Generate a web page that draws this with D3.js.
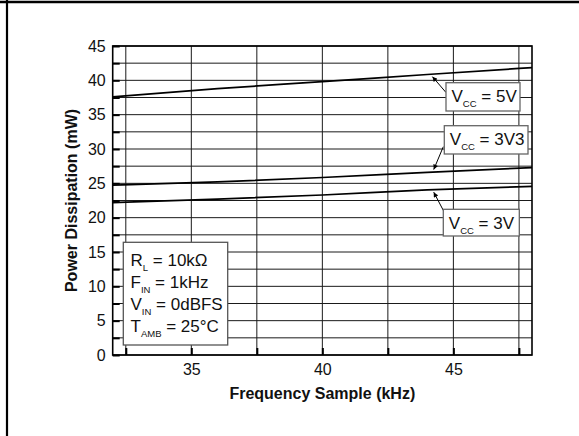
<!DOCTYPE html>
<html>
<head>
<meta charset="utf-8">
<script src="https://cdn.jsdelivr.net/npm/d3@7/dist/d3.min.js"></script>
<style>
  html, body { margin: 0; padding: 0; background: #fff; }
  svg { display: block; font-family: "Liberation Sans", Arial, sans-serif; }
</style>
</head>
<body>
<svg id="chart" width="579" height="436"></svg>
<script>
// Sample frequency (kHz) and power dissipation (mW) per supply voltage
const freqs   = [32, 36, 40, 44, 48];
const vcc5    = [37.6, 38.8, 39.8, 40.85, 41.85];
const vcc3v3  = [24.75, 25.2, 25.85, 26.6, 27.3];
const vcc3    = [22.2, 22.7, 23.3, 24.05, 24.55];

const xTickLabels = [35, 40, 45];
const yTickLabels = [0, 5, 10, 15, 20, 25, 30, 35, 40, 45];
const xGrid = [32.5, 35, 37.5, 40, 42.5, 45, 47.5];
const yGrid = d3.range(0, 45.01, 2.5);

const seriesValues = [vcc5, vcc3v3, vcc3];

(function draw() {
  const svg = d3.select("#chart");
  const W = 579, H = 436;
  const pl = 112.7, pr = 532, pt = 46, pb = 355;

  const x = d3.scaleLinear().domain([32, 48]).range([pl, pr]);
  const y = d3.scaleLinear().domain([0, 45]).range([pb, pt]);

  // outer frame (top and left edges)
  svg.append("line").attr("x1", 0).attr("x2", W).attr("y1", 2).attr("y2", 2)
    .attr("stroke", "#000").attr("stroke-width", 2.6);
  svg.append("line").attr("x1", 7).attr("x2", 7).attr("y1", 0).attr("y2", H)
    .attr("stroke", "#000").attr("stroke-width", 2.2);

  const g = svg.append("g");

  // grid
  g.append("g").selectAll("line").data(yGrid).join("line")
    .attr("x1", pl).attr("x2", pr)
    .attr("y1", d => y(d)).attr("y2", d => y(d))
    .attr("stroke", "#1a1a1a").attr("stroke-width", 1);
  g.append("g").selectAll("line").data(xGrid).join("line")
    .attr("x1", d => x(d)).attr("x2", d => x(d))
    .attr("y1", pt).attr("y2", pb)
    .attr("stroke", "#1a1a1a").attr("stroke-width", 1);

  // axes with inward ticks
  const yAxis = d3.axisLeft(y).tickValues(yGrid).tickSize(-7).tickPadding(7)
    .tickFormat(d => (yTickLabels.includes(d) ? d3.format("d")(d) : ""));
  const yg = g.append("g").attr("transform", `translate(${pl},0)`).call(yAxis);
  yg.select(".domain").remove();
  yg.selectAll(".tick line").attr("stroke", "#000").attr("stroke-width", 2);
  yg.selectAll(".tick text").attr("font-size", 16).attr("fill", "#111")
    .attr("font-family", "'Liberation Sans', Arial, sans-serif");

  const xAxis = d3.axisBottom(x).tickValues(xGrid).tickSize(-7).tickPadding(8.5)
    .tickFormat(d => (xTickLabels.includes(d) ? d3.format("d")(d) : ""));
  const xg = g.append("g").attr("transform", `translate(0,${pb})`).call(xAxis);
  xg.select(".domain").remove();
  xg.selectAll(".tick line").attr("stroke", "#000").attr("stroke-width", 2);
  xg.selectAll(".tick text").attr("font-size", 16).attr("fill", "#111")
    .attr("font-family", "'Liberation Sans', Arial, sans-serif");

  // plot border
  g.append("rect").attr("x", pl).attr("y", pt)
    .attr("width", pr - pl).attr("height", pb - pt)
    .attr("fill", "none").attr("stroke", "#000").attr("stroke-width", 1.6);

  // series lines
  const line = d3.line().x(d => x(d[0])).y(d => y(d[1])).curve(d3.curveMonotoneX);
  seriesValues.forEach(vals => {
    g.append("path").datum(freqs.map((f, i) => [f, vals[i]]))
      .attr("d", line).attr("fill", "none")
      .attr("stroke", "#000").attr("stroke-width", 1.7);
  });

  // value on a series at frequency f (linear between points)
  function valueAt(vals, f) {
    return d3.scaleLinear().domain(freqs).range(vals)(f);
  }

  // callout labels: arrow tip on the line, label box nearby
  const callouts = [
    { vals: vcc5,   f: 44.2,  off: 2.5,  box: [446, 82.7, 74, 28.3],      from: [446, 92.5],    text: "= 5V" },
    { vals: vcc3v3, f: 44.25, off: -2.5, box: [444.3, 125.7, 83.7, 28.3], from: [443.3, 146.7], text: "= 3V3" },
    { vals: vcc3,   f: 44.25, off: 2.5,  box: [443.3, 209.3, 76, 26.7],   from: [444, 211.7],   text: "= 3V" }
  ];

  const defs = svg.append("defs");
  defs.append("marker").attr("id", "arrow")
    .attr("viewBox", "0 0 10 10").attr("refX", 10).attr("refY", 5)
    .attr("markerWidth", 7).attr("markerHeight", 5)
    .attr("markerUnits", "userSpaceOnUse")
    .attr("orient", "auto")
    .append("path").attr("d", "M0,0 L10,5 L0,10 Z").attr("fill", "#000");

  callouts.forEach(c => {
    const tx = x(c.f), ty = y(valueAt(c.vals, c.f)) + c.off;
    g.append("line").attr("x1", c.from[0]).attr("y1", c.from[1])
      .attr("x2", tx).attr("y2", ty)
      .attr("stroke", "#000").attr("stroke-width", 1)
      .attr("marker-end", "url(#arrow)");
    g.append("rect").attr("x", c.box[0]).attr("y", c.box[1])
      .attr("width", c.box[2]).attr("height", c.box[3])
      .attr("fill", "#fff").attr("stroke", "#666").attr("stroke-width", 1.3);
    const t = g.append("text").attr("x", c.box[0] + 5.5).attr("y", c.box[1] + 19.2)
      .attr("font-size", 17).attr("fill", "#111");
    t.append("tspan").text("V");
    t.append("tspan").attr("font-size", 9.5).attr("dy", 5.5).text("CC");
    t.append("tspan").attr("dy", -5.5).text(" " + c.text);
  });

  // conditions box
  const condBox = [123.3, 242.3, 104.4, 102.7];
  g.append("rect").attr("x", condBox[0]).attr("y", condBox[1])
    .attr("width", condBox[2]).attr("height", condBox[3])
    .attr("fill", "#fff").attr("stroke", "#555").attr("stroke-width", 1.3);
  const conditions = [
    ["R", "L", " = 10k\u03A9"],
    ["F", "IN", " = 1kHz"],
    ["V", "IN", " = 0dBFS"],
    ["T", "AMB", " = 25\u00B0C"]
  ];
  conditions.forEach((c, i) => {
    const t = g.append("text").attr("x", 130.5).attr("y", 265.7 + i * 22)
      .attr("font-size", 17).attr("fill", "#111");
    t.append("tspan").text(c[0]);
    t.append("tspan").attr("font-size", 9.5).attr("dy", 5).text(c[1]);
    t.append("tspan").attr("dy", -5).text(c[2]);
  });

  // axis titles
  svg.append("text").attr("x", (pl + pr) / 2).attr("y", 399)
    .attr("text-anchor", "middle").attr("font-size", 16).attr("font-weight", "bold")
    .attr("fill", "#111").text("Frequency Sample (kHz)");
  svg.append("text").attr("transform", `translate(77,${(pt + pb) / 2}) rotate(-90)`)
    .attr("text-anchor", "middle").attr("font-size", 16).attr("font-weight", "bold")
    .attr("fill", "#111").text("Power Dissipation (mW)");
})();
</script>
</body>
</html>
